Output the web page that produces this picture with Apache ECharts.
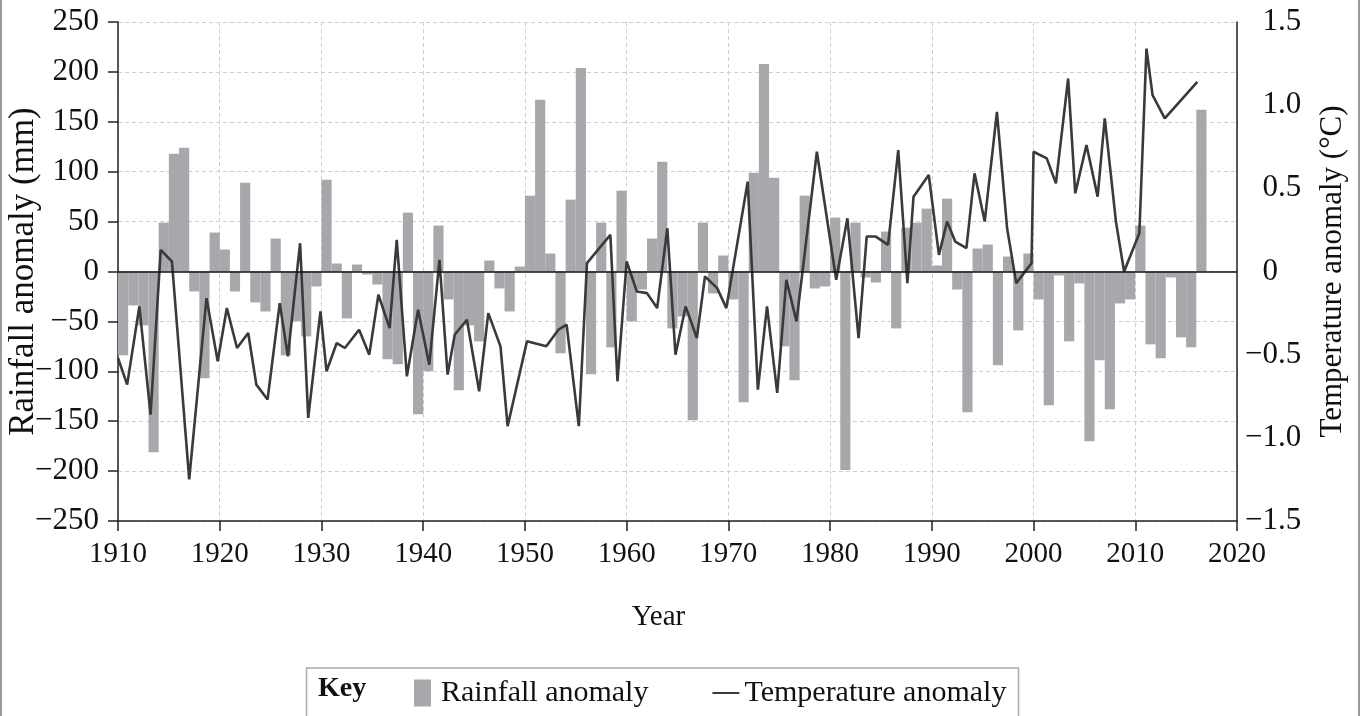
<!DOCTYPE html>
<html>
<head>
<meta charset="utf-8">
<script src="https://cdn.jsdelivr.net/npm/echarts@6/dist/echarts.min.js"></script>
<style>
html,body{margin:0;padding:0;background:#fff;}
#chart{width:1361px;height:716px;}
</style>
</head>
<body>
<div id="chart"></div>
<script>
// ---- data ----
const rainfallYears = [];
for (let y = 1910; y <= 2016; y++) rainfallYears.push(y);

const rainfall = [
  -84, -34, -54, -181, 49, 118, 124, -20, -107, 39,     // 1910-1919
  22, -20, 89, -31, -40, 33, -84, -50, -65, -15,        // 1920-1929
  92, 8, -47, 7, -3, -13, -88, -93, 59, -143,           // 1930-1939
  -100, 46, -28, -119, -54, -70, 11, -17, -40, 5,       // 1940-1949
  76, 172, 18, -82, 72, 204, -103, 49, -76, 81,         // 1950-1959
  -50, -18, 33, 110, -57, -45, -149, 49, -22, 16,       // 1960-1969
  -28, -131, 99, 208, 94, -75, -109, 76, -17, -15,      // 1970-1979
  54, -199, 49, -6, -11, 40, -57, 44, 49, 63,           // 1980-1989
  6, 73, -18, -141, 23, 27, -94, 15, -59, 18,           // 1990-1999
  -28, -134, -4, -70, -12, -170, -89, -138, -32, -28,   // 2000-2009
  46, -73, -87, -6, -66, -76, 162                       // 2010-2016
];

const tempYears = [
  1910.0, 1910.9, 1912.1, 1913.2, 1914.2, 1915.3, 1917.0, 1918.7, 1919.8, 1920.7,
  1921.7, 1922.8, 1923.6, 1924.7, 1925.9, 1926.7, 1927.9, 1928.7, 1929.9, 1930.5,
  1931.5, 1932.3, 1933.7, 1934.7, 1935.6, 1936.7, 1937.4, 1938.4, 1939.5, 1940.6,
  1941.6, 1942.4, 1943.1, 1944.3, 1945.5, 1946.4, 1947.6, 1948.3, 1950.2, 1952.1,
  1953.3, 1954.1, 1955.3, 1956.1, 1958.4, 1959.1, 1960.0, 1961.0, 1962.0, 1963.0,
  1964.0, 1964.8, 1965.8, 1966.9, 1967.7, 1968.9, 1969.8, 1971.9, 1972.9, 1973.8,
  1974.8, 1975.7, 1976.7, 1978.7, 1980.6, 1981.7, 1982.8, 1983.6, 1984.5, 1985.7,
  1986.7, 1987.6, 1988.2, 1989.7, 1990.7, 1991.5, 1992.3, 1993.4, 1994.2, 1995.2,
  1996.4, 1997.4, 1998.3, 1999.8, 2000.0, 2001.3, 2002.2, 2003.4, 2004.1, 2005.2,
  2006.3, 2007.0, 2008.1, 2008.9, 2010.4, 2011.1, 2011.7, 2012.9, 2016.1
];
const tempValues = [
  -0.52, -0.68, -0.21, -0.86, 0.13, 0.06, -1.25, -0.16, -0.54, -0.22,
  -0.46, -0.37, -0.68, -0.77, -0.19, -0.51, 0.17, -0.88, -0.24, -0.60,
  -0.43, -0.46, -0.35, -0.50, -0.14, -0.34, 0.19, -0.63, -0.23, -0.56,
  0.07, -0.62, -0.38, -0.29, -0.72, -0.25, -0.45, -0.93, -0.42, -0.45,
  -0.35, -0.32, -0.93, 0.05, 0.22, -0.66, 0.06, -0.12, -0.13, -0.22,
  0.26, -0.50, -0.21, -0.40, -0.03, -0.10, -0.22, 0.54, -0.71, -0.21,
  -0.73, -0.05, -0.30, 0.72, -0.05, 0.32, -0.40, 0.21, 0.21, 0.16,
  0.73, -0.07, 0.45, 0.58, 0.10, 0.30, 0.18, 0.14, 0.59, 0.30,
  0.96, 0.26, -0.07, 0.05, 0.72, 0.68, 0.53, 1.16, 0.47, 0.76,
  0.45, 0.92, 0.30, 0.00, 0.23, 1.34, 1.06, 0.92, 1.14
];

const seriesNames = ['Rainfall anomaly', 'Temperature anomaly'];
const axisTitles = { x: 'Year', left: 'Rainfall anomaly (mm)', right: 'Temperature anomaly (°C)' };
const keyTitle = 'Key';

// ---- chart ----
const FONT = "'Liberation Serif', 'Times New Roman', serif";
const BAR = '#a7a8ac';
const LINE = '#3a3a3a';
const INK = '#111';

const minusFmt = function (v, digits) {
  const s = digits ? Math.abs(v).toFixed(digits) : String(Math.abs(v));
  return v < 0 ? '\u2212' + s : s;
};

const chart = echarts.init(document.getElementById('chart'), null, { renderer: 'canvas' });

const option = {
  animation: false,
  backgroundColor: '#fff',
  textStyle: { fontFamily: FONT, color: INK },
  grid: { left: 118, right: 124, top: 22, bottom: 195, containLabel: false, outerBoundsMode: 'none' },
  legend: {
    left: 409,
    top: 673,
    itemWidth: 27,
    itemHeight: 27,
    itemGap: 64,
    symbolKeepAspect: true,
    textStyle: { fontFamily: FONT, fontSize: 30, color: INK },
    data: [
      { name: seriesNames[0], icon: 'path://M0,0H17V27H0Z' },
      { name: seriesNames[1], icon: 'path://M0,0H27V2H0Z' }
    ]
  },
  xAxis: {
    type: 'value',
    min: 1910,
    max: 2020,
    interval: 10,
    name: axisTitles.x,
    nameLocation: 'middle',
    nameGap: 82,
    nameMoveOverlap: false,
    nameTextStyle: { fontFamily: FONT, fontSize: 29, color: INK, padding: [0, 38, 0, 0] },
    axisLine: { show: true, onZero: false, lineStyle: { color: '#222', width: 1.5 } },
    axisTick: { show: true, inside: false, length: 10, lineStyle: { color: '#222', width: 1.5 } },
    axisLabel: { fontFamily: FONT, fontSize: 29, color: INK, margin: 19, formatter: v => String(v) },
    splitLine: { show: true, lineStyle: { color: '#cfcfcf', type: [4, 3], width: 1 } }
  },
  yAxis: [
    {
      type: 'value',
      position: 'left',
      min: -250,
      max: 250,
      interval: 50,
      name: axisTitles.left,
      nameLocation: 'middle',
      nameRotate: 90,
      nameGap: 77,
      nameMoveOverlap: false,
      nameTextStyle: { fontFamily: FONT, fontSize: 35, color: INK },
      axisLine: { show: true, onZero: false, lineStyle: { color: '#222', width: 1.5 } },
      axisTick: { show: true, inside: false, length: 10, lineStyle: { color: '#222', width: 1.5 } },
      axisLabel: { fontFamily: FONT, fontSize: 31, color: INK, margin: 19, formatter: v => minusFmt(v) },
      splitLine: { show: true, lineStyle: { color: '#cfcfcf', type: [4, 3], width: 1 } }
    },
    {
      type: 'value',
      position: 'right',
      min: -1.5,
      max: 1.5,
      interval: 0.5,
      name: axisTitles.right,
      nameLocation: 'middle',
      nameRotate: 90,
      nameGap: 80,
      nameMoveOverlap: false,
      nameTextStyle: { fontFamily: FONT, fontSize: 31, color: INK },
      axisLine: { show: true, onZero: false, lineStyle: { color: '#222', width: 1.5 } },
      axisTick: { show: false },
      axisLabel: {
        fontFamily: FONT, fontSize: 31, color: INK, margin: 8, align: 'left',
        formatter: v => (v < 0 ? minusFmt(v, 1) : '{h|\u2212}' + (v === 0 ? '0' : v.toFixed(1))),
        rich: { h: { fontFamily: FONT, fontSize: 31, color: 'rgba(0,0,0,0)' } }
      },
      splitLine: { show: false }
    }
  ],
  series: [
    {
      name: seriesNames[0],
      type: 'custom',
      xAxisIndex: 0,
      yAxisIndex: 0,
      itemStyle: { color: BAR },
      encode: { x: 0, y: 1 },
      data: rainfallYears.map((y, i) => [y, rainfall[i]]),
      renderItem: function (params, api) {
        const yr = api.value(0);
        const v = api.value(1);
        const p0 = api.coord([yr, 0]);
        const p1 = api.coord([yr + 1, v]);
        return {
          type: 'rect',
          shape: {
            x: p0[0],
            y: Math.min(p0[1], p1[1]),
            width: p1[0] - p0[0],
            height: Math.abs(p1[1] - p0[1])
          },
          style: { fill: BAR }
        };
      },
      z: 2
    },
    {
      name: seriesNames[1],
      type: 'line',
      xAxisIndex: 0,
      yAxisIndex: 1,
      color: LINE,
      symbol: 'none',
      showSymbol: false,
      lineStyle: { color: LINE, width: 2.6 },
      itemStyle: { color: LINE },
      data: tempYears.map((y, i) => [y, tempValues[i]]),
      markLine: {
        silent: true,
        symbol: 'none',
        label: { show: false },
        lineStyle: { color: '#111', width: 1.5, type: 'solid' },
        data: [{ yAxis: 0 }]
      },
      z: 4
    }
  ],
  graphic: [
    {
      type: 'rect',
      z: -10,
      silent: true,
      shape: { x: 1, y: -10, width: 1358, height: 740 },
      style: { fill: 'none', stroke: '#9a9a9a', lineWidth: 2 }
    },
    {
      type: 'rect',
      silent: true,
      shape: { x: 306.5, y: 668, width: 712, height: 70 },
      style: { fill: 'none', stroke: '#aaaaaa', lineWidth: 1.5 }
    },
    {
      type: 'text',
      silent: true,
      left: 318,
      top: 675,
      style: { text: keyTitle, font: "bold 28px 'Liberation Serif', 'Times New Roman', serif", fill: INK }
    }
  ]
};

chart.setOption(option);
</script>
</body>
</html>
